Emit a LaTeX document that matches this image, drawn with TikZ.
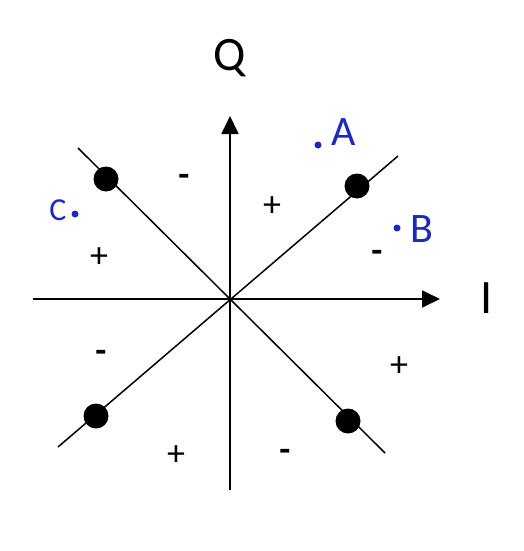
\documentclass[tikz,border=0pt]{standalone}
\usepackage{fontspec}
\setmainfont{Carlito}
\usetikzlibrary{arrows.meta}
\definecolor{penblue}{HTML}{1A28C8}

\begin{document}
\begin{tikzpicture}[
    x=1pt, y=-1pt,
    axis/.style={-{Triangle[length=18pt, width=17pt]}, line width=1.8pt},
    diag/.style={line width=1.5pt},
    dot/.style={circle, fill=black, minimum size=25pt, inner sep=0pt},
    sign/.style={font=\fontsize{36}{36}\selectfont, inner sep=0pt},
    axlabel/.style={font=\fontsize{48}{48}\selectfont, inner sep=0pt},
    handmark/.style={font=\fontsize{42}{42}\selectfont, text=penblue, inner sep=0pt},
    spot/.style={circle, fill=penblue, minimum size=7pt, inner sep=0pt},
]
\useasboundingbox (0,0) rectangle (523,551);
% axes
\coordinate (o) at (230,299);
\coordinate (w) at (33,299);
\coordinate (e) at (440,299);
\coordinate (s) at (230,490);
\coordinate (n) at (230,116);
\draw[axis] (w) -- (e);
\draw[axis] (s) -- (n);
\node[axlabel] (q) at (230,58) {Q};
\node[axlabel] (i) at (487,298) {I};
% diagonals
\coordinate (sw) at (58,447);
\coordinate (ne) at (398,156);
\coordinate (nw) at (78,148);
\coordinate (se) at (385,453);
\draw[diag] (sw) -- (ne);
\draw[diag] (nw) -- (se);
% constellation points
\node[dot] (p1) at (357,186) {};
\node[dot] (p2) at (106,179) {};
\node[dot] (p3) at (96,416) {};
\node[dot] (p4) at (348,421) {};
% signs
\node[sign] (s1) at (184,180) {\textbf{-}};
\node[sign] (s2) at (272,207) {+};
\node[sign] (s3) at (377,256) {\textbf{-}};
\node[sign] (s4) at (99,258) {+};
\node[sign] (s5) at (101,356) {\textbf{-}};
\node[sign] (s6) at (399,367) {+};
\node[sign] (s7) at (176,456) {+};
\node[sign] (s8) at (285,455) {\textbf{-}};
% hand marks
\node[handmark] (a) at (344,132) {A};
\node[spot] (da) at (318,145) {};
\node[handmark] (b) at (422,229) {B};
\node[spot] (db) at (397,228) {};
\node[handmark, font=\fontsize{32}{32}\selectfont] (c) at (58,210) {C};
\node[spot] (dc) at (75,214) {};
\end{tikzpicture}
\end{document}
